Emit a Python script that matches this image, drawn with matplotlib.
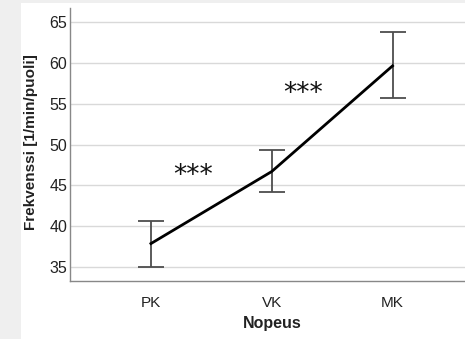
import numpy as np
import matplotlib
matplotlib.use('Agg')
import matplotlib.pyplot as plt
from matplotlib.patches import Rectangle

# data
categories = ['PK', 'VK', 'MK']
means      = [37.9, 46.7, 59.6]
err_low    = [35.1, 44.2, 55.7]
err_high   = [40.7, 49.35, 63.7]

# significance markers: (x, y, text)
sig_x    = [0.35, 1.26]
sig_y    = [46.1, 56.2]
sig_text = ['***', '***']

plt.rcParams['font.family'] = ['Liberation Sans', 'DejaVu Sans']

fig = plt.figure(figsize=(4.65, 3.39), dpi=100)
fig.patch.set_facecolor('#efefef')
# white panel, gray strip left and top
fig.patches.append(Rectangle((21/465, 0), 1, 1 - 3/339, transform=fig.transFigure,
                             facecolor='white', edgecolor='none', zorder=-10))

ax = fig.add_axes([70/465, 1 - 281/339, 1 - 70/465, (281 - 8)/339])
ax.set_facecolor('white')

x = np.arange(len(categories))
yerr = [np.array(means) - np.array(err_low), np.array(err_high) - np.array(means)]
ax.errorbar(x, means, yerr=yerr, fmt='none', ecolor='#4d4d4d', elinewidth=1.3,
            capsize=9.4, capthick=1.3, zorder=3)
ax.plot(x, means, color='black', lw=2, zorder=4)

for sx, sy, st in zip(sig_x, sig_y, sig_text):
    ax.text(sx, sy, st, ha='center', va='center', fontsize=19,
            family='DejaVu Sans', color='#111111')

ax.set_xlim(-0.67, 2.6)
ax.set_ylim(33.33, 66.67)
ax.set_yticks([35, 40, 45, 50, 55, 60, 65])
ax.set_xticks(x)
ax.set_xticklabels(categories)
ax.yaxis.grid(True, color='#d9d9d9', lw=1)
ax.set_axisbelow(True)

for s in ['top', 'right']:
    ax.spines[s].set_visible(False)
for s in ['left', 'bottom']:
    ax.spines[s].set_color('#888888')
    ax.spines[s].set_linewidth(1)

ax.tick_params(axis='both', length=0, colors='#222222')
ax.tick_params(axis='x', pad=11, labelsize=11)
ax.tick_params(axis='y', pad=2, labelsize=11.5)

ax.set_ylabel('Frekvenssi [1/min/puoli]', fontsize=11, fontweight='bold', color='#222222')
ax.set_xlabel('Nopeus', fontsize=11.5, fontweight='bold', color='#222222')
ax.yaxis.set_label_coords(-0.081, 0.51)
ax.xaxis.set_label_coords((272 - 70) / 395, -(35) / 273)

fig.savefig('out.png', dpi=100, facecolor=fig.get_facecolor())
